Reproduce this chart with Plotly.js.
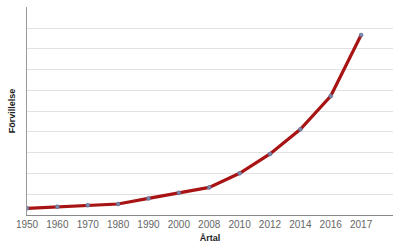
<!DOCTYPE html>
<html>
<head>
<meta charset="utf-8">
<script src="https://cdn.plot.ly/plotly-3.0.1.min.js"></script>
<style>html,body{margin:0;padding:0;background:#fff}#chart{width:400px;height:251px}</style>
</head>
<body>
<div id="chart"></div>
<script>
const years = ["1950","1960","1970","1980","1990","2000","2008","2010","2012","2014","2016","2017"];
const values = [0.32, 0.40, 0.47, 0.53, 0.80, 1.07, 1.33, 2.01, 2.94, 4.13, 5.73, 8.67];
const xTitle = "Årtal";
const yTitle = "Förvillelse";

const trace = {
  x: years, y: values, type: "scatter", mode: "lines+markers",
  line: {color: "#a81414", width: 3.2},
  marker: {color: "#7a86a8", size: 4, line: {color: "#5a6690", width: 0.5}},
  hoverinfo: "none"
};
const layout = {
  width: 400, height: 251,
  margin: {l: 27, r: 7, t: 7, b: 36},
  paper_bgcolor: "#fff", plot_bgcolor: "#fff",
  showlegend: false,
  font: {family: "Liberation Sans, Arial, sans-serif", color: "#666"},
  xaxis: {
    type: "category", range: [0, 12.05], showgrid: false,
    showline: true, linecolor: "#888", linewidth: 1,
    ticks: "", tickfont: {size: 10, color: "#666"},
    title: {text: xTitle, font: {size: 9, color: "#222", weight: "bold"}, standoff: 5},
    zeroline: false, fixedrange: true
  },
  yaxis: {
    range: [0, 10.02], dtick: 1, showticklabels: false, ticks: "",
    showgrid: true, gridcolor: "#e2e2e2", gridwidth: 1,
    showline: true, linecolor: "#999", linewidth: 1,
    zeroline: false,
    title: {text: yTitle, font: {size: 9, color: "#222", weight: "bold"}, standoff: 8},
    fixedrange: true
  }
};
Plotly.newPlot("chart", [trace], layout, {displayModeBar: false, staticPlot: true});
</script>
</body>
</html>
